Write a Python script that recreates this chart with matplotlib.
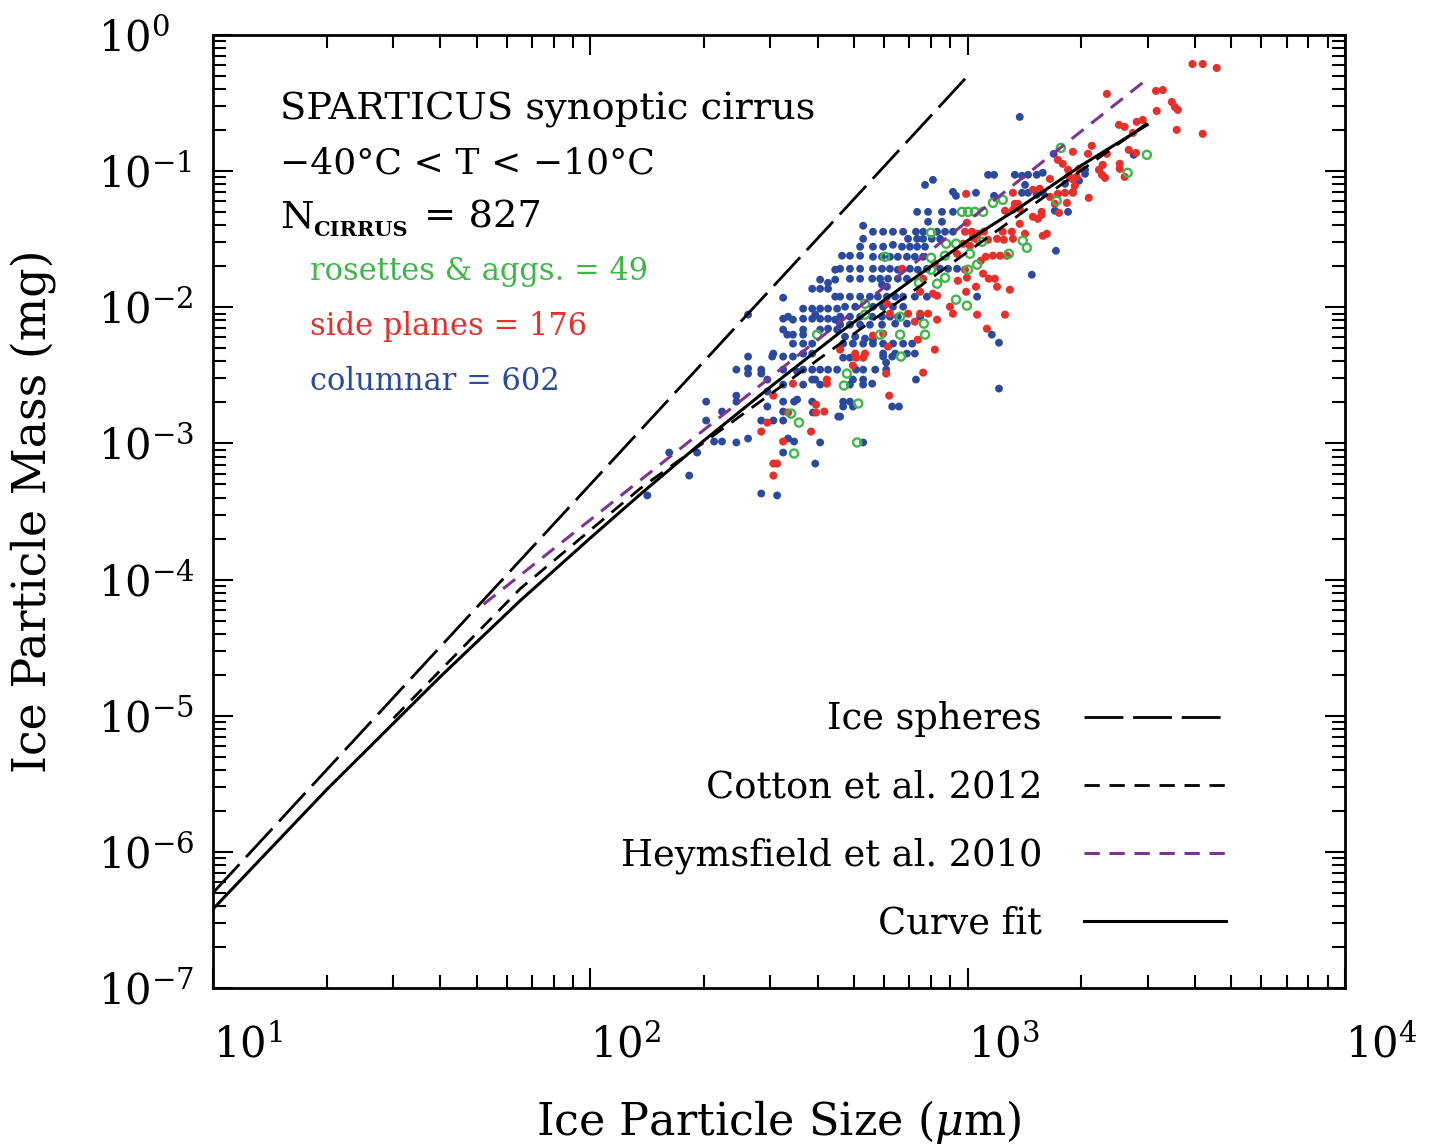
import numpy as np
import matplotlib
matplotlib.use("Agg")
import matplotlib.pyplot as plt
from matplotlib.ticker import LogLocator, NullFormatter

plt.rcParams['font.family'] = ['DejaVu Serif']
plt.rcParams['mathtext.fontset'] = 'dejavuserif'
plt.rcParams['lines.scale_dashes'] = False

# ---------------- data (log10 of size in um, log10 of mass in mg) ----------------
columnar_log10_size = [
    3.138, 2.887, 2.908, 3.054, 3.070, 3.125, 3.144, 3.160, 3.183, 3.152,
    2.961, 2.969, 3.022, 3.070, 3.144, 3.160, 3.183, 3.228, 3.440, 3.199,
    3.311, 3.311, 3.295, 3.258, 3.199, 3.279, 3.231, 3.266, 3.234,
    2.670, 2.688, 2.776, 2.800, 2.784, 2.704, 2.723, 2.755, 2.784, 2.696,
    2.723, 2.863, 2.688, 2.723, 2.747, 3.083, 2.670, 2.688, 2.696, 2.670,
    2.800, 2.818, 2.662, 2.723,
    2.387, 2.418, 2.418, 2.453, 2.453, 2.418, 2.482, 2.511, 2.537, 2.511,
    2.548, 2.564, 2.588, 2.609, 2.630, 2.654, 2.469, 2.564, 2.588, 2.596,
    2.609, 2.469, 2.511, 2.307, 2.387, 2.387, 2.469, 2.511, 2.540, 2.548,
    2.588, 2.511, 2.590, 2.657, 2.349, 2.307, 2.453, 2.485, 2.511, 2.328,
    2.349, 2.387, 2.418, 2.524, 2.540, 2.609, 2.209, 2.283, 2.511, 2.596,
    2.262, 2.453, 2.495, 2.151,
    2.418, 2.511, 2.609, 2.630, 2.649, 2.588, 2.609, 2.630, 2.649, 2.649,
    2.564, 2.588, 2.609, 2.630, 2.654, 2.511, 2.524, 2.537, 2.564, 2.588,
    2.596, 2.609, 2.630, 2.649, 2.511, 2.564, 2.609, 2.630, 2.654, 2.522,
    2.537, 2.564, 2.537, 2.564, 2.588, 2.485, 2.564, 2.588,
    2.866, 2.895, 2.932, 2.961, 2.895, 2.932, 2.723, 2.863, 2.882, 2.919,
    2.940, 2.961, 2.749, 2.776, 2.802, 2.829, 2.723, 2.842, 2.866, 2.882,
    2.905, 2.927, 2.715, 2.749, 2.776, 2.802, 2.826, 2.847, 2.866, 2.887,
    2.667, 2.688, 2.715, 2.749, 2.773, 2.794, 2.815, 2.839, 2.860, 2.882,
    2.662, 2.688, 2.715, 2.749, 2.773, 2.794, 2.815, 2.847, 2.868, 2.892,
    2.927, 2.948, 2.972, 3.170, 2.688, 2.715, 2.747, 2.768, 2.789, 2.815,
    2.839, 2.773, 2.786, 2.662, 2.688, 2.715, 2.741, 2.762, 2.786, 2.808,
    2.829, 2.860, 2.892, 3.025, 2.675, 2.702, 2.749, 2.776, 2.802, 2.829,
    2.662, 2.688, 2.715, 2.747, 2.773, 2.794, 2.815, 2.874, 2.662, 2.688,
    2.715, 2.741, 2.773, 2.808, 2.839, 2.675, 2.702, 2.728, 2.749, 3.064,
    3.083, 2.670, 2.696, 2.723, 2.749, 2.776, 2.802, 2.829, 2.853, 2.776,
    2.808, 2.839, 2.860,
]
columnar_log10_mass = [
    -0.602, -1.101, -1.064, -1.027, -1.027, -1.027, -1.034, -1.027, -1.027, -1.101,
    -1.152, -1.181, -1.159, -1.181, -1.159, -1.159, -1.174, -0.873, -0.880, -1.012,
    -0.990, -1.020, -1.071, -1.093, -1.159, -1.152, -1.291, -1.299, -1.585,
    -2.370, -2.370, -2.362, -2.362, -2.406, -2.458, -2.458, -2.458, -2.458, -2.531,
    -2.531, -2.531, -2.568, -2.568, -2.561, -2.597, -2.693, -2.693, -2.729, -2.729,
    -2.729, -2.729, -2.803, -2.993,
    -2.458, -2.450, -2.487, -2.458, -2.487, -2.362, -2.362, -2.362, -2.362, -2.458,
    -2.472, -2.458, -2.458, -2.458, -2.458, -2.458, -2.531, -2.568, -2.531, -2.531,
    -2.568, -2.619, -2.568, -2.693, -2.649, -2.693, -2.729, -2.693, -2.693, -2.678,
    -2.693, -2.766, -2.773, -2.803, -2.766, -2.832, -2.832, -2.832, -2.832, -2.986,
    -2.986, -2.993, -2.964, -2.964, -2.986, -2.993, -3.067, -3.067, -3.067, -3.148,
    -3.236, -3.368, -3.382, -3.382,
    -2.054, -1.930, -1.797, -1.820, -1.797, -1.864, -1.864, -1.864, -1.724, -1.922,
    -2.010, -2.010, -2.010, -2.010, -2.010, -2.084, -2.069, -2.091, -2.084, -2.084,
    -2.054, -2.084, -2.084, -2.091, -2.164, -2.164, -2.164, -2.157, -2.164, -2.201,
    -2.201, -2.201, -2.267, -2.267, -2.267, -2.340, -2.340, -2.340,
    -1.299, -1.299, -1.299, -1.299, -1.372, -1.372, -1.401, -1.445, -1.445, -1.445,
    -1.445, -1.445, -1.445, -1.445, -1.445, -1.445, -1.497, -1.497, -1.497, -1.497,
    -1.497, -1.497, -1.555, -1.555, -1.555, -1.541, -1.555, -1.555, -1.555, -1.555,
    -1.621, -1.621, -1.621, -1.629, -1.629, -1.629, -1.629, -1.629, -1.629, -1.629,
    -1.717, -1.717, -1.717, -1.717, -1.717, -1.717, -1.724, -1.717, -1.724, -1.717,
    -1.717, -1.717, -1.717, -1.761, -1.790, -1.790, -1.790, -1.790, -1.790, -1.790,
    -1.790, -1.834, -1.849, -1.922, -1.922, -1.922, -1.922, -1.922, -1.922, -1.922,
    -1.922, -1.922, -1.922, -1.922, -1.996, -1.996, -1.996, -1.996, -1.996, -1.996,
    -2.069, -2.069, -2.069, -2.069, -2.069, -2.069, -2.069, -2.069, -2.128, -2.128,
    -2.128, -2.128, -2.128, -2.120, -2.120, -2.216, -2.216, -2.230, -2.238, -2.201,
    -2.260, -2.267, -2.267, -2.267, -2.267, -2.267, -2.267, -2.267, -2.267, -2.340,
    -2.340, -2.340, -2.340,
]

sideplane_log10_size = [
    2.996, 3.120, 3.173, 3.125, 3.133, 3.596, 3.623, 3.660, 3.369, 3.499,
    3.517, 3.541, 3.549, 3.557, 3.501, 3.401, 3.416, 3.448, 3.464, 3.554,
    3.623, 3.438, 3.329, 3.279, 3.319, 3.369, 3.427, 3.446, 3.239, 3.252,
    3.358, 3.403, 3.403, 3.266, 3.295, 3.348, 3.356, 3.364, 3.416, 3.268,
    3.276, 3.289, 3.218, 3.284, 3.191, 3.218, 3.239, 3.258, 3.279, 3.321,
    3.231, 3.263, 3.196, 3.196, 3.242, 3.199, 3.210, 2.704, 2.723, 2.696,
    2.784, 2.882, 2.792, 2.537, 2.627, 2.627, 2.485, 2.598, 2.524, 2.598,
    2.620, 2.469, 2.453, 2.585, 2.511, 2.485, 2.495, 2.485, 3.099, 3.120,
    3.138, 3.173, 3.186, 2.998, 3.138, 2.993, 3.011, 3.027, 3.043, 3.093,
    3.117, 3.152, 3.014, 3.025, 3.054, 3.078, 3.096, 3.120, 2.988, 3.006,
    2.972, 3.048, 3.067, 3.086, 3.104, 3.035, 2.826, 2.913, 2.993, 3.041,
    2.882, 2.974, 2.998, 3.056, 3.072, 3.078, 3.112, 3.022, 2.786, 2.874,
    2.908, 2.919, 2.996, 2.953, 2.961, 3.099, 3.025, 2.794, 2.842, 2.874,
    2.895, 2.919, 2.860, 2.749, 2.776, 2.868, 3.051, 2.913, 2.662, 2.702,
    2.728, 2.789,
]
sideplane_log10_mass = [
    -1.167, -1.159, -1.137, -1.240, -1.240, -0.213, -0.213, -0.242, -0.433, -0.411,
    -0.404, -0.492, -0.528, -0.550, -0.558, -0.660, -0.675, -0.638, -0.624, -0.697,
    -0.726, -0.719, -0.814, -0.858, -0.873, -0.873, -0.844, -0.866, -0.917, -0.946,
    -0.954, -0.946, -0.983, -0.990, -0.983, -0.990, -1.027, -1.049, -1.042, -1.034,
    -1.057, -1.042, -1.057, -1.108, -1.130, -1.189, -1.167, -1.159, -1.159, -1.196,
    -1.240, -1.233, -1.299, -1.321, -1.306, -1.475, -1.460, -2.370, -2.370, -2.428,
    -2.487, -2.480, -2.649, -2.561, -2.531, -2.561, -2.649, -2.715, -2.773, -2.773,
    -2.766, -2.847, -2.913, -2.913, -2.986, -3.148, -3.148, -3.236, -1.291, -1.284,
    -1.277, -1.335, -1.350, -1.379, -1.387, -1.445, -1.445, -1.460, -1.445, -1.445,
    -1.445, -1.460, -1.489, -1.504, -1.504, -1.497, -1.504, -1.497, -1.533, -1.548,
    -1.607, -1.629, -1.621, -1.621, -1.621, -1.658, -1.717, -1.680, -1.724, -1.753,
    -1.790, -1.805, -1.783, -1.790, -1.790, -1.849, -1.871, -1.849, -1.974, -1.886,
    -1.900, -1.915, -1.886, -1.996, -2.047, -2.054, -2.054, -2.047, -2.047, -2.047,
    -2.047, -2.091, -2.106, -2.208, -2.194, -2.238, -2.157, -2.311, -2.311, -2.340,
    -2.340, -2.289,
]

rosette_log10_size = [
    3.067, 3.093, 3.247, 3.475, 3.424, 3.236, 2.680, 2.672, 2.710, 2.707,
    2.532, 2.553, 2.540, 2.601, 2.985, 3.001, 3.019, 3.041, 2.903, 3.146,
    2.943, 2.969, 3.038, 3.157, 2.781, 2.903, 2.940, 3.006, 3.109, 2.903,
    3.001, 3.025, 2.871, 2.919, 2.940, 2.969, 2.728, 2.728, 2.998, 2.821,
    2.884, 2.821, 2.887, 2.768, 2.823,
]
rosette_log10_mass = [
    -1.233, -1.211, -0.829, -0.880, -1.012, -1.218, -2.487, -2.575, -2.707, -2.993,
    -2.781, -2.847, -3.074, -2.201, -1.299, -1.299, -1.299, -1.299, -1.453, -1.511,
    -1.533, -1.533, -1.519, -1.563, -1.629, -1.636, -1.621, -1.607, -1.607, -1.724,
    -1.724, -1.687, -1.820, -1.827, -1.783, -1.944, -1.974, -2.054, -1.988, -2.069,
    -2.120, -2.201, -2.201, -2.201, -2.362,
]

# relations (size um, mass mg)
sphere_size = [10.0, 1000.0]
sphere_mass = [5.0e-7, 0.50]
cotton_size = [30.1, 65.3, 135.5, 459.0, 1372.0, 2992.0]
cotton_mass = [9.6e-6, 8.6e-5, 4.66e-4, 5.4e-3, 0.048, 0.225]
heyms_size = [52.1, 2992.0]
heyms_mass = [6.58e-5, 0.475]
fit_size = [10.0, 20.0, 40.0, 65.0, 100.0, 135.5, 200.0, 300.0, 459.0, 700.0,
            1000.0, 1372.0, 2000.0, 2992.0]
fit_mass = [3.8e-7, 2.86e-6, 1.93e-5, 6.95e-5, 2.02e-4, 4.22e-4, 1.05e-3, 2.60e-3,
            6.55e-3, 1.54e-2, 3.09e-2, 5.4e-2, 0.110, 0.219]

x_tick_values = [1e1, 1e2, 1e3, 1e4]
x_tick_labels = [r'$10^{1}$', r'$10^{2}$', r'$10^{3}$', r'$10^{4}$']
y_tick_values = [1e-7, 1e-6, 1e-5, 1e-4, 1e-3, 1e-2, 1e-1, 1e0]
y_tick_labels = [r'$10^{-7}$', r'$10^{-6}$', r'$10^{-5}$', r'$10^{-4}$',
                 r'$10^{-3}$', r'$10^{-2}$', r'$10^{-1}$', r'$10^{0}$']

BLUE = '#2b4a9e'
RED = '#e5302c'
GREEN = '#3fb748'
PURPLE = '#7e3592'

# ---------------- figure ----------------
W, H = 1433, 1147
fig = plt.figure(figsize=(W / 100, H / 100), dpi=100)
ax = fig.add_axes([213 / W, 1 - 988 / H, 1132 / W, 953 / H])
ax.set_xscale('log')
ax.set_yscale('log')

ax.scatter(10 ** np.array(columnar_log10_size), 10 ** np.array(columnar_log10_mass),
           s=32, c=BLUE, edgecolors='none', zorder=3)
ax.scatter(10 ** np.array(sideplane_log10_size), 10 ** np.array(sideplane_log10_mass),
           s=34, c=RED, edgecolors='none', zorder=4)
ax.scatter(10 ** np.array(rosette_log10_size), 10 ** np.array(rosette_log10_mass),
           s=34, facecolors='none', edgecolors=GREEN, linewidths=1.7, zorder=5)

l1, = ax.plot(sphere_size, sphere_mass, color='k', lw=2.0, dashes=(28, 7), zorder=6,
              label='Ice spheres')
l2, = ax.plot(cotton_size, cotton_mass, color='k', lw=2.0, dashes=(11, 7), zorder=6,
              label='Cotton et al. 2012')
l3, = ax.plot(heyms_size, heyms_mass, color=PURPLE, lw=2.2, dashes=(11, 7), zorder=6,
              label='Heymsfield et al. 2010')
l4, = ax.plot(fit_size, fit_mass, color='k', lw=2.2, zorder=7, label='Curve fit')

ax.set_xlim(10, 1e4)
ax.set_ylim(1e-7, 1)

ax.set_xticks(x_tick_values)
ax.set_xticklabels(x_tick_labels)
ax.set_yticks(y_tick_values)
ax.set_yticklabels(y_tick_labels)
ax.xaxis.set_minor_locator(LogLocator(base=10, subs=np.arange(2, 10), numticks=100))
ax.yaxis.set_minor_locator(LogLocator(base=10, subs=np.arange(2, 10), numticks=100))
ax.xaxis.set_minor_formatter(NullFormatter())
ax.yaxis.set_minor_formatter(NullFormatter())

ax.tick_params(which='both', direction='in', top=True, right=True, width=1.5, color='k')
ax.tick_params(which='major', length=14.5)
ax.tick_params(which='minor', length=9.5)
ax.tick_params(axis='x', which='major', pad=26, labelsize=30)
ax.tick_params(axis='y', which='major', pad=83, labelsize=30)
for lbl in ax.get_xticklabels():
    lbl.set_horizontalalignment('left')
for lbl in ax.get_yticklabels():
    lbl.set_horizontalalignment('left')

for sp in ax.spines.values():
    sp.set_linewidth(2.0)

ax.set_xlabel(r'Ice Particle Size ($\mu$m)', fontsize=32)
ax.set_ylabel('Ice Particle Mass (mg)', fontsize=33)
ax.xaxis.set_label_coords(0.5, -0.115)
ax.yaxis.label.set_va('center')
ax.yaxis.set_label_coords(-0.158, 0.5)


def axx(px):
    return (px - 213) / 1132


def axy(py):
    return (988 - py) / 953


# annotation block
ax.text(axx(280), axy(120), 'SPARTICUS synoptic cirrus', transform=ax.transAxes,
        fontsize=27.6, va='baseline')
ax.text(axx(280), axy(173), '\u221240\u00b0C < T < \u221210\u00b0C', transform=ax.transAxes,
        fontsize=26, va='baseline')
ax.text(axx(280), axy(228), 'N', transform=ax.transAxes, fontsize=27.6, va='baseline')
ax.text(axx(313), axy(236), 'CIRRUS', transform=ax.transAxes, fontsize=15,
        fontweight='bold', va='baseline')
ax.text(axx(424), axy(228), '= 827', transform=ax.transAxes, fontsize=27.6, va='baseline')
ax.text(axx(310), axy(280), 'rosettes & aggs. = 49', transform=ax.transAxes,
        fontsize=22, va='baseline', color=GREEN)
ax.text(axx(310), axy(335), 'side planes = 176', transform=ax.transAxes,
        fontsize=22, va='baseline', color=RED)
ax.text(axx(310), axy(390), 'columnar = 602', transform=ax.transAxes,
        fontsize=22, va='baseline', color=BLUE)

leg = ax.legend(handles=[l1, l2, l3, l4], loc='lower right',
                bbox_to_anchor=(axx(1226), axy(942)),
                markerfirst=False, frameon=False, fontsize=26.5,
                handlelength=3.85, handletextpad=1.15, labelspacing=0.87,
                borderpad=0, borderaxespad=0)

fig.savefig('out.png', dpi=100)
